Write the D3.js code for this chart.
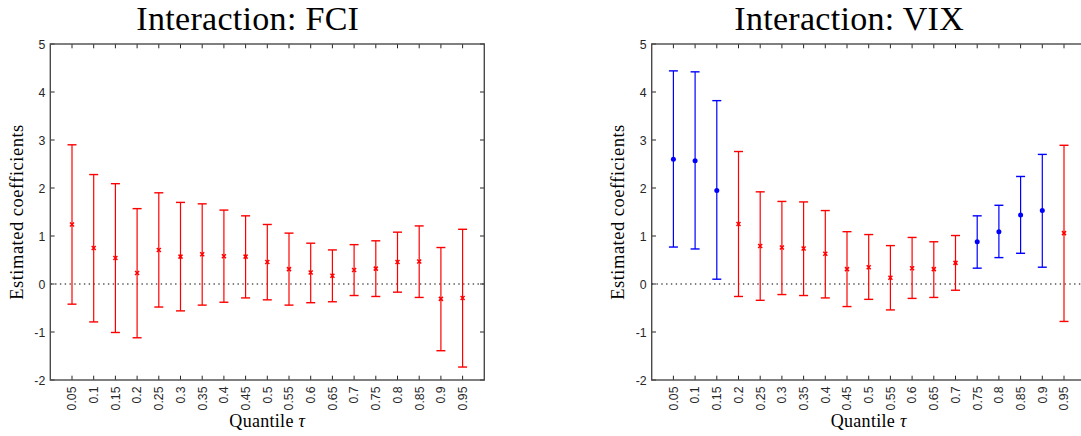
<!DOCTYPE html>
<html>
<head>
<meta charset="utf-8">
<script src="https://cdn.jsdelivr.net/npm/d3@7"></script>
<style>
  html, body { margin: 0; padding: 0; background: #fff; }
  svg { display: block; }
</style>
</head>
<body>
<div id="chart"></div>
<script>
// Quantile regression interaction coefficients with 90% CI (FCI / VIX)
var TAU = ['0.05', '0.1', '0.15', '0.2', '0.25', '0.3', '0.35', '0.4', '0.45', '0.5',
           '0.55', '0.6', '0.65', '0.7', '0.75', '0.8', '0.85', '0.9', '0.95'];
var Y_TICKS = [-2, -1, 0, 1, 2, 3, 4, 5];

var FCI_EST = [1.24, 0.75, 0.54, 0.23, 0.71, 0.57, 0.62, 0.58, 0.57, 0.46,
               0.31, 0.24, 0.17, 0.29, 0.32, 0.46, 0.47, -0.31, -0.29];
var FCI_LO  = [-0.42, -0.79, -1.01, -1.12, -0.48, -0.56, -0.44, -0.38, -0.29, -0.33,
               -0.44, -0.39, -0.37, -0.24, -0.26, -0.17, -0.28, -1.39, -1.73];
var FCI_HI  = [2.90, 2.28, 2.09, 1.57, 1.90, 1.70, 1.67, 1.54, 1.42, 1.24,
               1.06, 0.85, 0.71, 0.82, 0.90, 1.08, 1.21, 0.76, 1.14];

var VIX_EST = [2.60, 2.57, 1.95, 1.25, 0.79, 0.76, 0.74, 0.63, 0.31, 0.35,
               0.13, 0.33, 0.31, 0.44, 0.88, 1.09, 1.44, 1.53, 1.06];
var VIX_LO  = [0.77, 0.73, 0.10, -0.26, -0.34, -0.22, -0.24, -0.29, -0.47, -0.32,
               -0.54, -0.30, -0.28, -0.13, 0.33, 0.55, 0.64, 0.35, -0.78];
var VIX_HI  = [4.44, 4.42, 3.82, 2.76, 1.92, 1.72, 1.71, 1.53, 1.09, 1.03,
               0.80, 0.97, 0.88, 1.01, 1.42, 1.64, 2.24, 2.70, 2.89];

var W = 1081, H = 436;
var AW = 434, TOP = 44, BOT = 380, TICK = 4.3;
var AX_COL = '#262626';
var SANS = '"Liberation Sans", Arial, Helvetica, sans-serif';
var SERIF = '"Liberation Serif", "Times New Roman", serif';

var svg = d3.select('#chart').append('svg')
    .attr('width', W).attr('height', H)
    .attr('viewBox', '0 0 ' + W + ' ' + H);

var panels = [
  { title: 'Interaction: FCI', est: FCI_EST, lo: FCI_LO, hi: FCI_HI, left: 50.3 },
  { title: 'Interaction: VIX', est: VIX_EST, lo: VIX_LO, hi: VIX_HI, left: 651.7 }
];

panels.forEach(function (p) {
  var x = d3.scaleLinear().domain([0, TAU.length + 1]).range([p.left, p.left + AW]);
  var y = d3.scaleLinear().domain([-2, 5]).range([BOT, TOP]);
  var g = svg.append('g');
  var idx = d3.range(TAU.length);

  // zero reference line
  g.append('line')
    .attr('x1', p.left).attr('x2', p.left + AW)
    .attr('y1', y(0)).attr('y2', y(0))
    .attr('stroke', '#000').attr('stroke-width', 1)
    .attr('stroke-dasharray', '1.4,3.4');

  // ticks on all four sides (inward)
  idx.forEach(function (i) {
    var xx = x(i + 1);
    g.append('line').attr('x1', xx).attr('x2', xx).attr('y1', BOT).attr('y2', BOT - TICK)
      .attr('stroke', AX_COL).attr('stroke-width', 1);
    g.append('line').attr('x1', xx).attr('x2', xx).attr('y1', TOP).attr('y2', TOP + TICK)
      .attr('stroke', AX_COL).attr('stroke-width', 1);
    g.append('text')
      .attr('transform', 'translate(' + (xx + 4.3) + ',' + (BOT + 6.5) + ') rotate(-90)')
      .attr('text-anchor', 'end')
      .attr('font-family', SANS).attr('font-size', 12.3).attr('fill', AX_COL)
      .text(TAU[i]);
  });
  Y_TICKS.forEach(function (t) {
    g.append('line').attr('x1', p.left).attr('x2', p.left + TICK).attr('y1', y(t)).attr('y2', y(t))
      .attr('stroke', AX_COL).attr('stroke-width', 1);
    g.append('line').attr('x1', p.left + AW).attr('x2', p.left + AW - TICK).attr('y1', y(t)).attr('y2', y(t))
      .attr('stroke', AX_COL).attr('stroke-width', 1);
    g.append('text')
      .attr('x', p.left - 5).attr('y', y(t) + 4.7)
      .attr('text-anchor', 'end')
      .attr('font-family', SANS).attr('font-size', 12.3).attr('fill', AX_COL)
      .text(t);
  });

  // box
  g.append('rect').attr('x', p.left).attr('y', TOP).attr('width', AW).attr('height', BOT - TOP)
    .attr('fill', 'none').attr('stroke', '#4a4a4a').attr('stroke-width', 1.4);

  // error bars: blue where the interval excludes zero
  function col(i) { return (p.lo[i] > 0 || p.hi[i] < 0) ? '#0000ff' : '#ff0000'; }
  var bars = g.selectAll(null).data(idx).enter().append('g');
  bars.append('line')
    .attr('x1', function (i) { return x(i + 1); }).attr('x2', function (i) { return x(i + 1); })
    .attr('y1', function (i) { return y(p.lo[i]); }).attr('y2', function (i) { return y(p.hi[i]); })
    .attr('stroke', col).attr('stroke-width', 1.2);
  [p.lo, p.hi].forEach(function (arr) {
    bars.append('line')
      .attr('x1', function (i) { return x(i + 1) - 4.5; }).attr('x2', function (i) { return x(i + 1) + 4.5; })
      .attr('y1', function (i) { return y(arr[i]); }).attr('y2', function (i) { return y(arr[i]); })
      .attr('stroke', col).attr('stroke-width', 1.4);
  });
  // markers: dot for significant, small x otherwise
  bars.filter(function (i) { return col(i) === '#0000ff'; }).append('circle')
    .attr('cx', function (i) { return x(i + 1); }).attr('cy', function (i) { return y(p.est[i]); })
    .attr('r', 2.5).attr('fill', '#0000ff');
  bars.filter(function (i) { return col(i) === '#ff0000'; }).append('path')
    .attr('d', function (i) {
      var cx = x(i + 1), cy = y(p.est[i]), s = 2;
      return 'M' + (cx - s) + ',' + (cy - s) + 'L' + (cx + s) + ',' + (cy + s) +
             'M' + (cx - s) + ',' + (cy + s) + 'L' + (cx + s) + ',' + (cy - s);
    })
    .attr('stroke', '#ff0000').attr('stroke-width', 1.5).attr('fill', 'none');

  // title and axis labels
  svg.append('text').attr('x', p.left + AW / 2 - 19.5).attr('y', 29.5)
    .attr('text-anchor', 'middle').attr('font-family', SERIF).attr('font-size', 34)
    .attr('letter-spacing', 0.3).attr('fill', '#000').text(p.title);
  var xl = svg.append('text').attr('x', p.left + AW / 2).attr('y', 427)
    .attr('text-anchor', 'middle').attr('font-family', SERIF).attr('font-size', 18)
    .attr('letter-spacing', 0.3).attr('fill', '#000');
  xl.append('tspan').text('Quantile ');
  xl.append('tspan').attr('font-style', 'italic').text('τ');
  svg.append('text')
    .attr('transform', 'translate(' + (p.left - 27.5) + ',' + ((TOP + BOT) / 2) + ') rotate(-90)')
    .attr('text-anchor', 'middle').attr('font-family', SERIF).attr('font-size', 18.5)
    .attr('letter-spacing', 0.5).attr('fill', '#000').text('Estimated coefficients');
});
</script>
</body>
</html>
